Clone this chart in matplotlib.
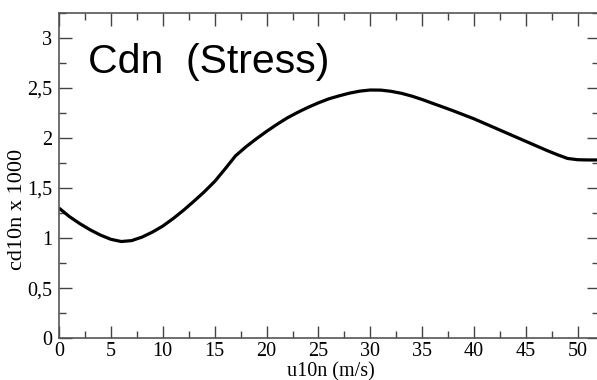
import matplotlib
matplotlib.use("Agg")
import matplotlib.pyplot as plt
from matplotlib.ticker import MultipleLocator, FuncFormatter

# values
u10n = [0, 1, 2, 3, 4, 5, 6, 7, 8, 9, 10, 11, 12, 13, 14, 15, 16, 17,
        18, 19, 20, 21, 22, 23, 24, 25, 26, 27, 28, 29, 30, 31, 32, 33, 34,
        35, 36, 37, 38, 39, 40, 41, 42, 43, 44, 45, 46, 47, 48, 49, 50, 51, 52]
cd10n = [1.30, 1.215, 1.145, 1.083, 1.03, 0.988, 0.966, 0.975, 1.01, 1.06,
         1.12, 1.195, 1.278, 1.368, 1.462, 1.565, 1.69, 1.82,
         1.91, 1.99, 2.065, 2.135, 2.20, 2.255, 2.305, 2.35, 2.39, 2.42,
         2.447, 2.467, 2.478, 2.477, 2.465, 2.445, 2.417, 2.383, 2.345,
         2.308, 2.27, 2.23, 2.19, 2.145, 2.10, 2.055, 2.01, 1.965, 1.92,
         1.875, 1.833, 1.795, 1.782, 1.78, 1.78]

title = "Cdn  (Stress)"

plt.rcParams['font.family'] = ['Liberation Serif', 'DejaVu Serif']

fig = plt.figure(figsize=(5.97, 3.80), dpi=100)
ax = fig.add_axes([0.0988, 0.1097, 0.904, 0.857])

ax.plot(u10n, cd10n, color='black', linewidth=2.3, solid_capstyle='butt')

ax.set_xlim(0, 52)
ax.set_ylim(0, 3.25)
ax.xaxis.set_major_locator(MultipleLocator(5))
ax.xaxis.set_minor_locator(MultipleLocator(2.5))
ax.yaxis.set_major_locator(MultipleLocator(0.5))
ax.yaxis.set_minor_locator(MultipleLocator(0.25))
ax.yaxis.set_major_formatter(FuncFormatter(lambda v, p: ('%g' % v).replace('.', ',')))

ax.tick_params(which='both', direction='in', top=True, right=True,
               labelsize=14.5, color='#444444')
ax.tick_params(axis='x', pad=3)
ax.tick_params(axis='y', pad=5)
ax.tick_params(which='major', length=9, width=1)
ax.tick_params(which='minor', length=5, width=1)
for s in ax.spines.values():
    s.set_linewidth(1.2)
    s.set_color('#555555')

# axis titles placed where the reference has them
fig.text(331 / 597, 1 - 376 / 380, 'u10n (m/s)', fontsize=14.5,
         ha='center', va='baseline')
fig.text(18 / 597, 1 - 209 / 380, 'cd10n x 1000', fontsize=16,
         rotation=90, ha='center', va='center')

ax.text(0.054, 0.815, title, transform=ax.transAxes, fontsize=29.5,
        family='Liberation Sans', va='baseline', ha='left')

fig.savefig('out.png', dpi=100)
